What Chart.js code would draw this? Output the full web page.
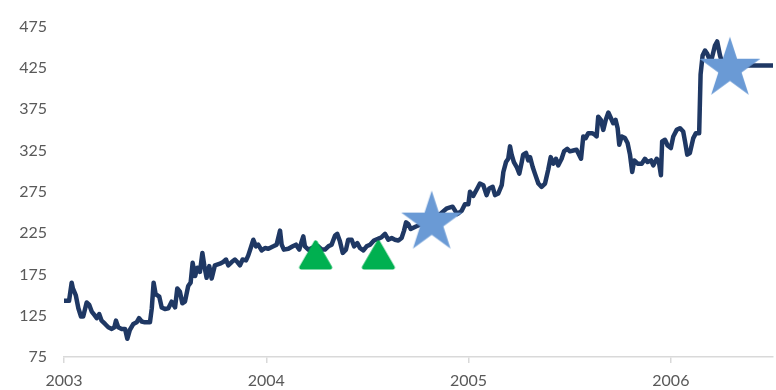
<!DOCTYPE html>
<html><head><meta charset="utf-8">
<script src="https://cdn.jsdelivr.net/npm/chart.js@4"></script>
<style>html,body{margin:0;padding:0;background:#fff}#wrap{width:776px;height:390px}</style>
</head><body><div id="wrap"><canvas id="c" width="776" height="390"></canvas></div>
<script>
const dates = [
2003.000,2003.025,2003.038,2003.044,2003.058,2003.071,2003.084,2003.095,2003.112,2003.125,
2003.137,2003.150,2003.162,2003.174,2003.186,2003.203,2003.219,2003.236,2003.249,2003.257,
2003.268,2003.285,2003.302,2003.313,2003.326,2003.343,2003.359,2003.371,2003.384,2003.400,
2003.425,2003.434,2003.443,2003.453,2003.471,2003.483,2003.499,2003.516,2003.532,2003.549,
2003.560,2003.573,2003.585,2003.598,2003.614,2003.626,2003.636,2003.648,2003.659,2003.672,
2003.684,2003.694,2003.705,2003.718,2003.730,2003.746,2003.771,2003.787,2003.801,2003.812,
2003.829,2003.845,2003.857,2003.870,2003.883,2003.900,2003.911,2003.923,2003.936,2003.949,
2003.960,2003.977,2003.994,2004.010,2004.018,2004.035,2004.051,2004.068,2004.076,2004.087,
2004.109,2004.131,2004.147,2004.163,2004.175,2004.183,2004.191,2004.208,2004.226,2004.256,
2004.275,2004.290,2004.307,2004.323,2004.340,2004.351,2004.364,2004.378,2004.394,2004.405,
2004.422,2004.434,2004.450,2004.463,2004.480,2004.496,2004.513,2004.532,2004.552,2004.570,
2004.587,2004.603,2004.620,2004.636,2004.653,2004.669,2004.681,2004.691,2004.702,2004.714,
2004.740,2004.770,2004.799,2004.829,2004.859,2004.893,2004.921,2004.944,2004.966,2004.982,
2004.999,2005.007,2005.023,2005.043,2005.056,2005.073,2005.089,2005.102,2005.119,2005.131,
2005.147,2005.164,2005.172,2005.185,2005.196,2005.205,2005.213,2005.224,2005.238,2005.251,
2005.263,2005.270,2005.284,2005.295,2005.304,2005.317,2005.328,2005.345,2005.361,2005.378,
2005.394,2005.406,2005.419,2005.432,2005.443,2005.460,2005.472,2005.488,2005.501,2005.518,
2005.534,2005.542,2005.556,2005.567,2005.579,2005.592,2005.611,2005.625,2005.633,2005.641,
2005.654,2005.666,2005.678,2005.691,2005.704,2005.715,2005.727,2005.737,2005.745,2005.757,
2005.773,2005.786,2005.798,2005.809,2005.819,2005.836,2005.856,2005.872,2005.885,2005.902,
2005.913,2005.930,2005.941,2005.951,2005.957,2005.971,2005.984,2006.000,2006.012,2006.029,
2006.045,2006.061,2006.070,2006.081,2006.094,2006.111,2006.124,2006.140,2006.147,2006.157,
2006.169,2006.180,2006.190,2006.202,2006.218,2006.229,2006.243,2006.253,2006.267,2006.342,
2006.391,2006.505
];
const prices = [
143,143,165,158,150,134,124,124,141,138,
130,126,122,127,119,115,111,109,111,119,
111,109,109,97,108,115,117,122,118,117,
117,134,165,151,148,135,133,134,142,135,
158,154,140,142,161,165,189,173,183,178,
201,185,171,185,170,186,188,190,193,186,
190,193,190,186,193,192,198,207,217,209,
211,204,207,206,207,209,211,228,211,205,
206,209,211,205,215,221,209,205,207,209,
205,205,209,211,222,224,215,201,205,217,
217,209,213,207,204,209,211,216,218,220,
224,217,219,217,216,219,228,238,236,230,
233,236,240,243,248,255,257,248,252,260,
260,275,270,279,285,283,271,279,281,271,
273,283,299,311,315,330,320,311,305,297,
311,320,322,313,317,305,297,285,281,285,
302,317,309,315,307,315,324,327,324,325,
326,322,315,342,340,346,346,344,342,366,
362,350,362,371,364,358,362,352,332,342,
340,334,320,299,313,309,309,315,311,313,
307,315,311,295,336,338,331,328,342,350,
352,348,336,320,322,340,346,346,417,440,
446,442,436,436,452,457,440,432,430,428,
428,428
];
const triangleDates = [2004.244, 2004.554];
const triangleValues = [198.5, 198.5];
const starDates = [2004.818, 2006.292];
const starValues = [237.7, 424];
const yearTicks = [2003, 2004, 2005, 2006];
const valueTicks = [75, 125, 175, 225, 275, 325, 375, 425, 475];
const xMin = 2003, xMax = 2006.505;
const yMin = 75, yMax = 475;

function makeStar(R, color) {
  const s = Math.ceil(2 * R + 4);
  const c = document.createElement('canvas');
  c.width = s; c.height = s;
  const g = c.getContext('2d');
  const cx = s / 2, cy = s / 2, r = R * 0.382;
  g.beginPath();
  for (let i = 0; i < 10; i++) {
    const a = -Math.PI / 2 + i * Math.PI / 5;
    const rr = i % 2 ? r : R;
    g.lineTo(cx + rr * Math.cos(a), cy + rr * Math.sin(a));
  }
  g.closePath();
  g.fillStyle = color;
  g.fill();
  return c;
}
function makeTriangle(side, lw, color) {
  const s = 40;
  const c = document.createElement('canvas');
  c.width = s; c.height = s;
  const g = c.getContext('2d');
  const h = side * Math.sqrt(3) / 2;
  const cx = s / 2, cy = s / 2;
  g.beginPath();
  g.moveTo(cx, cy - h / 2);
  g.lineTo(cx + side / 2, cy + h / 2);
  g.lineTo(cx - side / 2, cy + h / 2);
  g.closePath();
  g.fillStyle = color; g.strokeStyle = color;
  g.lineWidth = lw; g.lineJoin = 'round';
  g.fill(); g.stroke();
  return c;
}
const starImg = makeStar(32, '#6A9AD5');
const triImg = makeTriangle(29, 4, '#00B050');

const tickFont = { family: 'Lato', size: 16 };
new Chart(document.getElementById('c'), {
  type: 'line',
  data: {
    datasets: [
      { data: starDates.map((d, i) => ({ x: d, y: starValues[i] })), showLine: false,
        pointStyle: starImg, pointRadius: 10, order: 0 },
      { data: triangleDates.map((d, i) => ({ x: d, y: triangleValues[i] })), showLine: false,
        pointStyle: triImg, pointRadius: 10, order: 1 },
      { data: dates.map((d, i) => ({ x: d, y: prices[i] })), borderColor: '#1F3864',
        borderWidth: 4.5, pointRadius: 0, tension: 0, borderJoinStyle: 'round', borderCapStyle: 'round',
        fill: false, order: 2 }
    ]
  },
  options: {
    responsive: false, animation: false, events: [],
    layout: { autoPadding: false, padding: { top: 17, right: 3, left: 0, bottom: 0 } },
    plugins: { legend: { display: false }, tooltip: { enabled: false } },
    scales: {
      x: {
        type: 'linear', min: xMin, max: xMax,
        afterBuildTicks: s => { s.ticks = yearTicks.map(v => ({ value: v })); },
        afterFit: s => { s.height = 33; s.paddingRight = 0; s.paddingLeft = 0; },
        ticks: { callback: v => String(v), color: '#595959', font: tickFont, padding: 8, maxRotation: 0, autoSkip: false },
        grid: { display: true, drawOnChartArea: false, drawTicks: true, tickLength: 6, color: '#D9D9D9', lineWidth: 1.5 },
        border: { display: true, color: '#D9D9D9', width: 1.5 }
      },
      y: {
        type: 'linear', min: yMin, max: yMax,
        afterBuildTicks: s => { s.ticks = valueTicks.map(v => ({ value: v })); },
        afterFit: s => { s.width = 64; },
        ticks: { color: '#595959', font: tickFont, padding: 17 },
        grid: { display: false, drawTicks: false },
        border: { display: false }
      }
    }
  }
});
</script>
</body></html>
